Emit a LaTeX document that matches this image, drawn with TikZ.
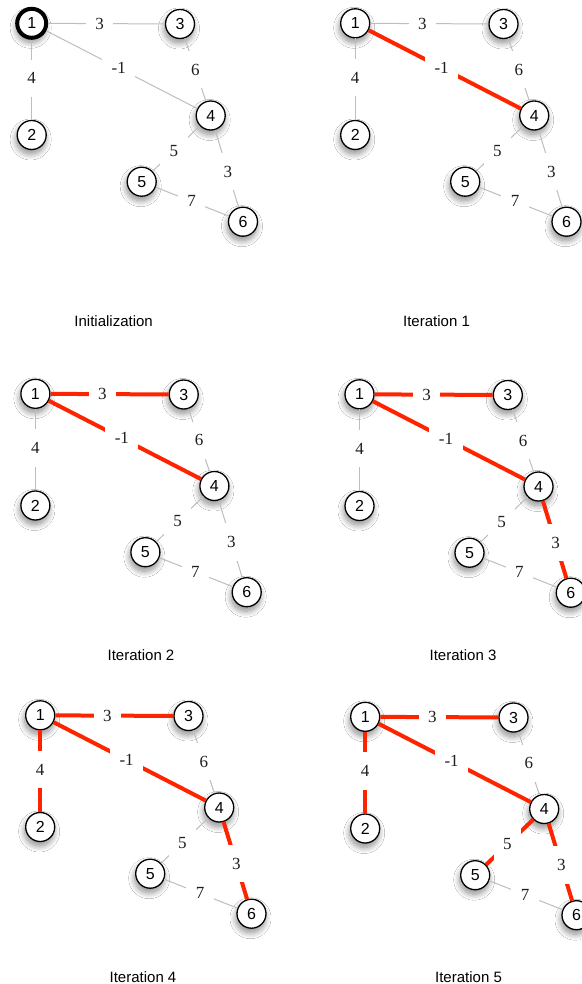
\documentclass[tikz,border=0pt]{standalone}
\usepackage{fontspec}
\setmainfont{Liberation Serif}
\newfontfamily\helv{Liberation Sans}
\usetikzlibrary{shadows.blur}
\definecolor{redge}{RGB}{255,36,0}
\definecolor{gedge}{RGB}{190,190,190}
\definecolor{wtext}{RGB}{30,30,30}
\tikzset{
 vtx/.style={circle, draw=black, fill=white, line width=1.3pt, minimum size=29pt, inner sep=0pt,
   font=\helv\fontsize{16}{16}\selectfont,
   blur shadow={shadow xshift=-1pt, shadow yshift=-4.5pt, shadow blur radius=6pt, shadow blur steps=12, shadow opacity=45}},
 firstvtx/.style={line width=4pt},
 ordvtx/.style={},
 grayedge/.style={draw=gedge, line width=1pt},
 rededge/.style={draw=redge, line width=4pt},
 wt/.style={fill=white, inner xsep=9.5pt, inner ysep=13pt, font=\fontsize{17}{17}\selectfont, text=wtext},
 captxt/.style={font=\helv\fontsize{15}{15}\selectfont}
}
% #1 id, #2 shift, #3 node-1 style, #4 e12, #5 e13, #6 e14, #7 e45, #8 e46
\newcommand\drawpanel[8]{%
\begin{scope}[shift={#2}]
 \node[vtx,#3] (#1n1) at (31.7,23.3) {1};
 \node[vtx] (#1n2) at (31.7,135) {2};
 \node[vtx] (#1n3) at (180,24) {3};
 \node[vtx] (#1n4) at (210.7,115.5) {4};
 \node[vtx] (#1n5) at (141.7,181.7) {5};
 \node[vtx] (#1n6) at (243,221.7) {6};
 \draw[grayedge] (#1n3) -- node[wt,pos=0.5]{6} (#1n4);
 \draw[grayedge] (#1n5) -- node[wt,pos=0.49]{7} (#1n6);
 \draw[#4] (#1n1) -- node[wt,pos=0.48]{4} (#1n2);
 \draw[#5] (#1n1) -- node[wt,pos=0.44]{3} (#1n3);
 \draw[#6] (#1n1) -- node[wt,pos=0.48]{-1} (#1n4);
 \draw[#7] (#1n4) -- node[wt,pos=0.55]{5} (#1n5);
 \draw[#8] (#1n4) -- node[wt,pos=0.54]{3} (#1n6);
\end{scope}}
\begin{document}
\begin{tikzpicture}[x=1pt,y=-1pt]
\useasboundingbox (0,0) rectangle (581,984);
\fill[white] (0,0) rectangle (581,984);
\drawpanel{a}{(0,0)}{firstvtx}{grayedge}{grayedge}{grayedge}{grayedge}{grayedge}
\drawpanel{b}{(323.5,0)}{ordvtx}{grayedge}{grayedge}{rededge}{grayedge}{grayedge}
\drawpanel{c}{(3.7,370.5)}{ordvtx}{grayedge}{rededge}{rededge}{grayedge}{grayedge}
\drawpanel{d}{(327.8,371)}{ordvtx}{grayedge}{rededge}{rededge}{grayedge}{rededge}
\drawpanel{e}{(8.5,692)}{ordvtx}{rededge}{rededge}{rededge}{grayedge}{rededge}
\drawpanel{f}{(333.5,693.5)}{ordvtx}{rededge}{rededge}{rededge}{rededge}{rededge}
\node[captxt] (c1) at (113.6,321) {Initialization};
\node[captxt] (c2) at (436.5,321) {Iteration 1};
\node[captxt] (c3) at (141,655) {Iteration 2};
\node[captxt] (c4) at (463,655) {Iteration 3};
\node[captxt] (c5) at (143,977) {Iteration 4};
\node[captxt] (c6) at (468.5,977) {Iteration 5};
\end{tikzpicture}
\end{document}
